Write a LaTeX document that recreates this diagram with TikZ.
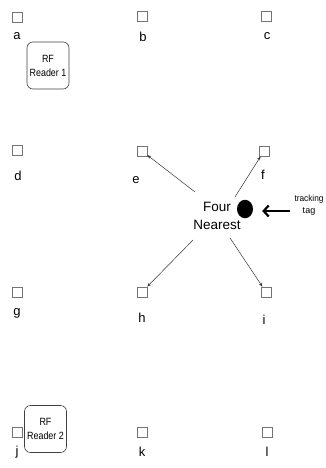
\documentclass[tikz,border=0pt]{standalone}
\usepackage{fontspec}
\usepackage{graphicx}
\setmainfont{Liberation Sans}
\usetikzlibrary{arrows.meta,shapes.geometric}
\newcommand{\narrowtxt}[1]{\scalebox{0.85}[1]{#1}}
\begin{document}
\begin{tikzpicture}[x=1pt,y=-1pt,
  sq/.style={draw=black!55,line width=0.7pt,minimum size=10pt,inner sep=0pt,fill=white},
  lbl/.style={font=\fontsize{13}{13}\selectfont,inner sep=0pt},
  reader/.style={draw=black!75,line width=0.6pt,rounded corners=6pt,minimum width=42pt,minimum height=47pt,align=center,inner sep=0pt,font=\fontsize{10.5}{14}\selectfont},
  thin arrow/.style={-{Stealth[length=4pt,width=3pt]},line width=0.5pt,black!80}]
\useasboundingbox (0,0) rectangle (326,468);
% squares
\node[sq] (a) at (17,17) {};
\node[sq] (b) at (142,16) {};
\node[sq] (c) at (266,16) {};
\node[sq] (d) at (17,150) {};
\node[sq] (e) at (142,151) {};
\node[sq] (f) at (264,151) {};
\node[sq] (g) at (17,292) {};
\node[sq] (h) at (142,292) {};
\node[sq] (i) at (266,292) {};
\node[sq] (j) at (17,432) {};
\node[sq] (k) at (142,432) {};
\node[sq] (l) at (267,432) {};
% labels
\node[lbl] (la) at (17,36) {a};
\node[lbl] (lb) at (143,37) {b};
\node[lbl] (lc) at (267,36) {c};
\node[lbl] (ld) at (18,176) {d};
\node[lbl] (le) at (136,180) {e};
\node[lbl] (lf) at (263,175) {f};
\node[lbl] (lg) at (17,313) {g};
\node[lbl] (lh) at (142,318) {h};
\node[lbl] (li) at (264,320) {i};
\node[lbl] (lj) at (17,452) {j};
\node[lbl] (lk) at (142,452) {k};
\node[lbl] (ll) at (267,452) {l};
% readers
\node[reader] (r1) at (48,65.5) {\narrowtxt{RF}\\\narrowtxt{Reader 1}};
\node[reader] (r2) at (45.5,429) {\narrowtxt{RF}\\\narrowtxt{Reader 2}};
% center
\node[align=center,inner sep=0pt,font=\fontsize{13.5}{18}\selectfont] (nearest) at (217,216) {Four\\Nearest};
\node[ellipse,fill=black,minimum width=16pt,minimum height=18.5pt,inner sep=0pt] (dot) at (245,209) {};
\node[align=center,inner sep=0pt,font=\fontsize{9}{12}\selectfont] (tag) at (309,205) {\scalebox{0.92}[1]{tracking}\\tag};
% arrows
\coordinate (se) at (195,192);
\coordinate (sf) at (235,197);
\coordinate (sh) at (193,240);
\coordinate (si) at (230,238);
\draw[thin arrow] (se) -- (e);
\draw[thin arrow] (sf) -- (f);
\draw[thin arrow] (sh) -- (h);
\draw[thin arrow] (si) -- (i);
\coordinate (ts) at (290,211);
\draw[-{Straight Barb[length=5pt,width=11pt,line width=2.2pt]},line width=2.4pt,shorten >=9pt] (ts) -- (ts -| dot.east);
\end{tikzpicture}
\end{document}
